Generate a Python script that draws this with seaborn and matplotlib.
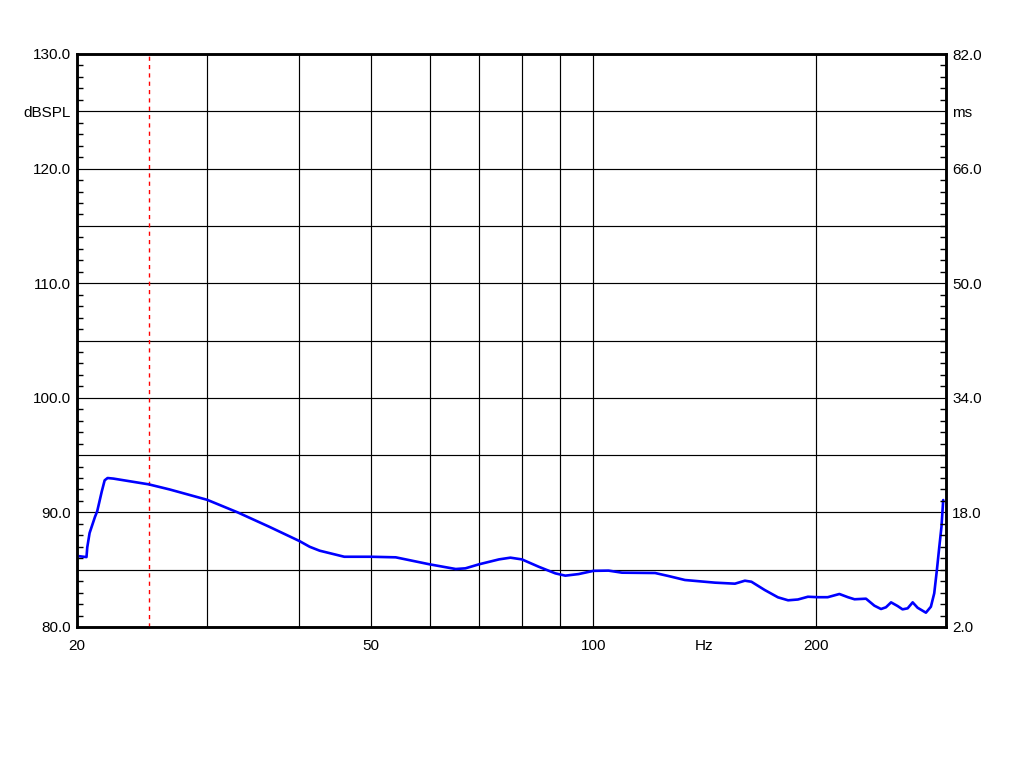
import numpy as np
import seaborn as sns
import matplotlib
matplotlib.use('Agg')
import matplotlib.pyplot as plt
from matplotlib.ticker import FixedLocator, NullFormatter

# Frequency response (Hz, dBSPL)
freq_hz = [20.0, 20.6, 20.65, 20.8, 21.15, 21.3, 21.6, 21.8, 22.0, 22.4,
           25.0, 26.7, 30.0, 33.0, 36.4, 40.0, 41.3, 42.6, 46.0, 50.0,
           54.0, 60.0, 65.1, 67.1, 70.0, 74.5, 77.2, 80.0, 84.3, 88.8,
           91.6, 95.5, 100.0, 104.8, 109.3, 121.2, 126.3, 133.0, 146.0, 155.4,
           160.3, 163.6, 170.5, 177.7, 183.4, 189.1, 195.1, 201.2, 207.5, 215.2,
           221.0, 225.6, 233.8, 240.0, 245.0, 248.8, 252.8, 258.0, 262.0, 266.2,
           270.4, 274.6, 281.8, 286.2, 289.2, 291.6, 293.8, 295.8, 297.4]
spl_db = [86.2, 86.1, 86.95, 88.2, 89.6, 90.1, 91.8, 92.8, 93.0, 92.95,
          92.45, 92.0, 91.1, 90.0, 88.75, 87.5, 87.0, 86.66, 86.13, 86.13,
          86.08, 85.47, 85.06, 85.12, 85.47, 85.9, 86.05, 85.9, 85.26, 84.68,
          84.48, 84.62, 84.9, 84.92, 84.74, 84.71, 84.45, 84.1, 83.87, 83.78,
          84.04, 83.95, 83.23, 82.59, 82.33, 82.4, 82.64, 82.6, 82.6, 82.88,
          82.6, 82.42, 82.47, 81.86, 81.57, 81.72, 82.15, 81.83, 81.54, 81.63,
          82.15, 81.68, 81.25, 81.77, 82.94, 84.97, 87.0, 88.75, 91.08]

# Axis ranges and ticks
x_range = (20, 300)
x_grid = [30, 40, 50, 60, 70, 80, 90, 100, 200]
x_labels = {20: '20', 50: '50', 100: '100', 200: '200'}
marker_freq = 25
unit_x_pos = 141

db_range = (80, 130)
db_grid = [80, 85, 90, 95, 100, 105, 110, 115, 120, 125, 130]
db_labels = {80: '80.0', 90: '90.0', 100: '100.0', 110: '110.0', 120: '120.0', 125: 'dBSPL', 130: '130.0'}

ms_range = (2, 82)
ms_ticks = [2, 18, 34, 50, 66, 74, 82]
ms_labels = ['2.0', '18.0', '34.0', '50.0', '66.0', 'ms', '82.0']

sns.set_style('white')
plt.rcParams['font.family'] = ['Liberation Sans', 'DejaVu Sans']

FS = 11


def main():
    fig = plt.figure(figsize=(10.24, 7.68), dpi=100)
    ax = fig.add_axes([77 / 1024, 141 / 768, 869 / 1024, 573 / 768])

    sns.lineplot(x=freq_hz, y=spl_db, ax=ax, color='#0000ff', linewidth=1.9,
                 sort=False, estimator=None, zorder=5)

    ax.set_xscale('log')
    ax.set_xlim(*x_range)
    ax.set_ylim(*db_range)

    # vertical grid + labels
    xt = [x_range[0]] + x_grid
    ax.xaxis.set_major_locator(FixedLocator(xt))
    ax.xaxis.set_minor_locator(FixedLocator([]))
    ax.xaxis.set_minor_formatter(NullFormatter())
    ax.set_xticklabels([x_labels.get(v, '') for v in xt])
    ax.axvline(marker_freq, color='red', linestyle=(0, (3, 3)), linewidth=1.0, zorder=3)
    ax.annotate('Hz', xy=(unit_x_pos, 0), xycoords=ax.get_xaxis_transform(),
                xytext=(0, -8.5), textcoords='offset points',
                ha='center', va='top', fontsize=FS, color='black')

    # horizontal grid + labels
    ax.set_yticks(db_grid)
    ax.set_yticklabels([db_labels.get(v, '') for v in db_grid])
    ax.yaxis.set_minor_locator(FixedLocator(np.arange(80, 131, 1)))

    ax.grid(True, which='major', color='black', linewidth=0.85)
    ax.tick_params(axis='both', which='major', length=0, labelsize=FS, colors='black')
    ax.tick_params(axis='x', which='major', pad=8.5)
    ax.tick_params(axis='y', which='major', pad=4.5)
    ax.tick_params(axis='y', which='minor', direction='in', length=4, width=1,
                   left=True, right=False, color='black')
    ax.set_xlabel('')
    ax.set_ylabel('')

    # secondary axis (group delay, ms)
    ax2 = ax.twinx()
    ax2.set_ylim(*ms_range)
    ax2.set_yticks(ms_ticks)
    ax2.set_yticklabels(ms_labels)
    ax2.yaxis.set_minor_locator(FixedLocator(np.arange(2, 82.01, 1.6)))
    ax2.tick_params(axis='y', which='major', length=0, pad=4.5, labelsize=FS, colors='black')
    ax2.tick_params(axis='y', which='minor', direction='in', length=4, width=1,
                    right=True, left=False, color='black')
    ax2.grid(False)

    for a in (ax, ax2):
        for s in a.spines.values():
            s.set_visible(True)
            s.set_color('black')
            s.set_linewidth(1.8)

    fig.savefig('out.png', dpi=100, facecolor='white')
    plt.close(fig)


if __name__ == '__main__':
    main()
